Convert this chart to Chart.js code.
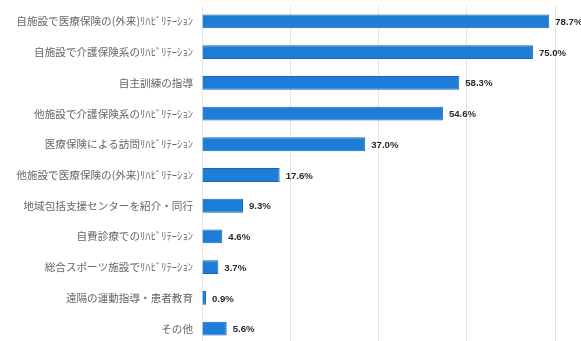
<!DOCTYPE html>
<html>
<head>
<meta charset="utf-8">
<script src="https://cdn.jsdelivr.net/npm/chart.js@4"></script>
<style>
    html, body { margin: 0; padding: 0; background: #fff; overflow: hidden; }
    #wrap { position: relative; width: 581px; height: 345px; }
</style>
</head>
<body>
<div id="wrap"><canvas id="myBarChartHorizontal"></canvas></div>
<script>
const categories = [
    '自施設で医療保険の(外来)ﾘﾊﾋﾞﾘﾃｰｼｮﾝ',
    '自施設で介護保険系のﾘﾊﾋﾞﾘﾃｰｼｮﾝ',
    '自主訓練の指導',
    '他施設で介護保険系のﾘﾊﾋﾞﾘﾃｰｼｮﾝ',
    '医療保険による訪問ﾘﾊﾋﾞﾘﾃｰｼｮﾝ',
    '他施設で医療保険の(外来)ﾘﾊﾋﾞﾘﾃｰｼｮﾝ',
    '地域包括支援センターを紹介・同行',
    '自費診療でのﾘﾊﾋﾞﾘﾃｰｼｮﾝ',
    '総合スポーツ施設でﾘﾊﾋﾞﾘﾃｰｼｮﾝ',
    '遠隔の運動指導・患者教育',
    'その他'
];
const values = [78.7, 75.0, 58.3, 54.6, 37.0, 17.6, 9.3, 4.6, 3.7, 0.9, 5.6];
const xTicks = [0, 20, 40, 60, 80];

// writes "xx.x%" just past the end of each bar
const valueLabels = {
    id: 'valueLabels',
    afterDatasetsDraw(chart) {
        const ctx = chart.ctx;
        const meta = chart.getDatasetMeta(0);
        ctx.save();
        ctx.font = 'bold 9.6px "Liberation Sans", Arial, sans-serif';
        ctx.fillStyle = '#2b2b2b';
        ctx.textAlign = 'left';
        ctx.textBaseline = 'middle';
        meta.data.forEach((bar, i) => {
            ctx.fillText(values[i].toFixed(1) + '%', bar.x + 6, bar.y + 1);
        });
        ctx.restore();
    }
};

function createBarChartHorizontal() {
    const config = {
        type: 'bar',
        data: {
            labels: categories,
            datasets: [{
                label: 'values',
                data: values,
                backgroundColor: '#1e7ed7',
                borderColor: '#1669b8',
                borderWidth: 1,
                barPercentage: 0.9,
                categoryPercentage: 0.5
            }]
        },
        options: {
            indexAxis: 'y',
            responsive: true,
            maintainAspectRatio: false,
            animation: false,
            layout: { padding: { top: 6, right: 26, bottom: 1, left: 0 } },
            plugins: {
                legend: { display: false },
                tooltip: { enabled: false }
            },
            scales: {
                x: {
                    min: 0,
                    max: 80,
                    afterBuildTicks(scale) {
                        scale.ticks = xTicks.map(v => ({ value: v }));
                    },
                    afterFit(scale) {
                        scale.height = 0;
                        scale.paddingLeft = 0;
                        scale.paddingRight = 0;
                    },
                    ticks: { display: false },
                    grid: { color: '#e4e4e4', drawTicks: false },
                    border: { display: false }
                },
                y: {
                    afterFit(scale) {
                        scale.width = 202;
                        scale.paddingTop = 0;
                        scale.paddingBottom = 0;
                    },
                    ticks: {
                        padding: 9,
                        color: '#666',
                        font: { family: '"Noto Sans CJK JP", sans-serif', size: 10.6 }
                    },
                    grid: { display: false, drawTicks: false },
                    border: { display: false }
                }
            }
        },
        plugins: [valueLabels]
    };
    const ctx = document.getElementById('myBarChartHorizontal').getContext('2d');
    new Chart(ctx, config);
}

window.onload = createBarChartHorizontal;
</script>
</body>
</html>
